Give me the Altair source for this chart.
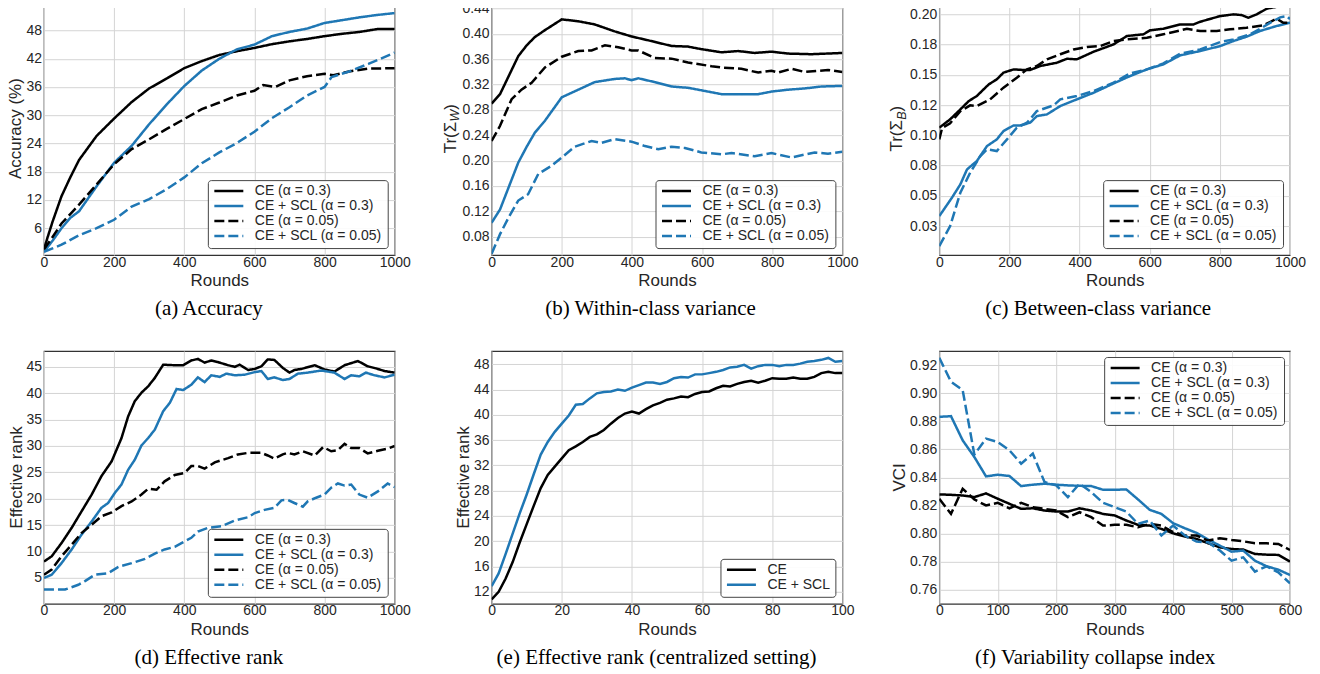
import altair as alt
import pandas as pd

# ---------------- data ----------------
LABELS4 = ["CE (α = 0.3)", "CE + SCL (α = 0.3)", "CE (α = 0.05)", "CE + SCL (α = 0.05)"]
LABELS2 = ["CE", "CE + SCL"]
CAPTIONS = ["(a) Accuracy", "(b) Within-class variance", "(c) Between-class variance",
            "(d) Effective rank", "(e) Effective rank (centralized setting)", "(f) Variability collapse index"]

# (a) Accuracy
A_CE03_X = [0, 10, 25, 50, 75, 100, 150, 200, 250, 300, 350, 400, 450, 500, 550, 600, 650, 700, 750, 800, 850, 900, 950, 1000]
A_CE03_Y = [1.5, 4.0, 7.5, 12.8, 16.8, 20.5, 25.6, 29.3, 32.8, 35.7, 37.8, 40.0, 41.5, 42.8, 43.6, 44.3, 45.1, 45.7, 46.2, 46.8, 47.3, 47.7, 48.3, 48.3]
A_SCL03_X = [0, 25, 50, 75, 100, 150, 200, 250, 300, 350, 400, 450, 500, 550, 600, 650, 700, 750, 800, 850, 900, 950, 1000]
A_SCL03_Y = [1.0, 3.4, 6.0, 8.2, 9.6, 14.9, 19.9, 23.5, 28.1, 32.3, 36.2, 39.5, 42.0, 44.0, 45.0, 46.8, 47.7, 48.4, 49.6, 50.2, 50.8, 51.3, 51.7]
A_CE005_X = [0, 25, 50, 75, 100, 150, 200, 250, 300, 350, 400, 450, 500, 550, 600, 625, 660, 700, 750, 800, 825, 870, 925, 1000]
A_CE005_Y = [1.5, 4.2, 7.0, 9.0, 11.0, 15.3, 19.6, 22.8, 24.9, 27.1, 29.2, 31.3, 32.7, 34.2, 35.2, 36.4, 36.0, 37.4, 38.3, 38.8, 38.5, 39.3, 39.9, 40.0]
A_SCL005_X = [0, 50, 100, 150, 200, 250, 300, 350, 400, 450, 500, 550, 600, 650, 700, 750, 800, 820, 870, 925, 1000]
A_SCL005_Y = [1.0, 2.5, 4.5, 6.0, 7.8, 10.6, 12.2, 14.3, 16.8, 19.8, 22.1, 24.1, 26.5, 29.4, 31.7, 34.2, 36.0, 38.1, 39.3, 40.9, 43.3]

# (b) Within-class variance
B_CE03_X = [0, 24, 50, 76, 100, 123, 152, 200, 247, 294, 351, 399, 446, 513, 560, 598, 655, 703, 750, 798, 845, 912, 1000]
B_CE03_Y = [0.290, 0.305, 0.335, 0.365, 0.382, 0.395, 0.406, 0.423, 0.420, 0.415, 0.404, 0.396, 0.390, 0.381, 0.380, 0.376, 0.371, 0.373, 0.370, 0.372, 0.369, 0.368, 0.370]
B_SCL03_X = [0, 24, 50, 76, 100, 123, 152, 200, 247, 294, 351, 380, 399, 418, 465, 513, 560, 608, 655, 703, 760, 798, 845, 893, 940, 1000]
B_SCL03_Y = [0.102, 0.123, 0.160, 0.197, 0.222, 0.244, 0.263, 0.300, 0.312, 0.324, 0.329, 0.330, 0.327, 0.330, 0.324, 0.317, 0.315, 0.310, 0.305, 0.305, 0.305, 0.309, 0.312, 0.314, 0.317, 0.318]
B_CE005_X = [0, 24, 57, 85, 114, 152, 200, 247, 285, 323, 361, 399, 418, 465, 513, 560, 627, 655, 712, 760, 798, 817, 855, 893, 959, 1000]
B_CE005_Y = [0.231, 0.255, 0.297, 0.312, 0.323, 0.347, 0.364, 0.373, 0.374, 0.382, 0.379, 0.374, 0.374, 0.362, 0.361, 0.355, 0.349, 0.347, 0.345, 0.339, 0.342, 0.339, 0.345, 0.340, 0.343, 0.340]
B_SCL005_X = [0, 24, 50, 76, 104, 133, 171, 200, 237, 285, 313, 351, 399, 437, 475, 513, 551, 598, 655, 684, 750, 798, 855, 921, 959, 1000]
B_SCL005_Y = [0.053, 0.084, 0.112, 0.137, 0.147, 0.179, 0.192, 0.205, 0.222, 0.231, 0.228, 0.234, 0.230, 0.223, 0.218, 0.222, 0.220, 0.213, 0.210, 0.212, 0.207, 0.212, 0.205, 0.213, 0.211, 0.214]

# (c) Between-class variance
C_CE03_X = [0, 31, 60, 84, 107, 141, 164, 183, 212, 240, 259, 288, 335, 364, 392, 440, 497, 535, 582, 601, 639, 687, 725, 744, 801, 839, 862, 881, 905, 934, 972, 1000]
C_CE03_Y = [0.1063, 0.1132, 0.1214, 0.1283, 0.1325, 0.1421, 0.1463, 0.1518, 0.1545, 0.1540, 0.1540, 0.1573, 0.1600, 0.1633, 0.1628, 0.1691, 0.1752, 0.1821, 0.1835, 0.1868, 0.1881, 0.1917, 0.1917, 0.1939, 0.1986, 0.2000, 0.1994, 0.1972, 0.2000, 0.2047, 0.2069, 0.2100]
C_SCL03_X = [0, 36, 60, 79, 107, 136, 164, 183, 212, 231, 259, 278, 307, 345, 392, 440, 497, 544, 592, 639, 687, 744, 801, 839, 876, 914, 962, 1000]
C_SCL03_Y = [0.0332, 0.0484, 0.0594, 0.0718, 0.0787, 0.0911, 0.0966, 0.1035, 0.1082, 0.1082, 0.1104, 0.1159, 0.1173, 0.1242, 0.1297, 0.1352, 0.1429, 0.1490, 0.1545, 0.1587, 0.1661, 0.1697, 0.1738, 0.1780, 0.1815, 0.1862, 0.1904, 0.1931]
C_CE005_X = [0, 8, 31, 60, 88, 107, 145, 183, 221, 250, 278, 307, 345, 383, 421, 459, 497, 535, 592, 639, 668, 706, 744, 791, 829, 876, 924, 962, 981, 1000]
C_CE005_Y = [0.0966, 0.1060, 0.1100, 0.1200, 0.1248, 0.1242, 0.1297, 0.1394, 0.1476, 0.1545, 0.1573, 0.1628, 0.1670, 0.1710, 0.1730, 0.1738, 0.1780, 0.1793, 0.1807, 0.1835, 0.1854, 0.1881, 0.1862, 0.1862, 0.1876, 0.1890, 0.1909, 0.1964, 0.1931, 0.1931]
C_SCL005_X = [0, 31, 60, 88, 117, 136, 164, 193, 221, 250, 278, 326, 345, 392, 440, 497, 544, 592, 639, 687, 744, 801, 839, 886, 914, 943, 972, 991, 1000]
C_SCL005_Y = [0.0084, 0.0250, 0.0525, 0.0691, 0.0829, 0.0884, 0.0870, 0.0966, 0.1063, 0.1104, 0.1200, 0.1248, 0.1297, 0.1325, 0.1366, 0.1435, 0.1512, 0.1545, 0.1595, 0.1675, 0.1710, 0.1771, 0.1793, 0.1835, 0.1880, 0.1930, 0.1975, 0.1985, 0.1960]
C_TICK_VALUES = [0.025, 0.05, 0.075, 0.10, 0.125, 0.15, 0.175, 0.20]
C_TICK_LABELS = ["0.03", "0.05", "0.08", "0.10", "0.12", "0.15", "0.18", "0.20"]

# (d) Effective rank
D_CE03_X = [0, 22, 50, 79, 107, 136, 164, 193, 221, 240, 259, 278, 297, 316, 340, 373, 397, 420, 439, 458, 477, 496, 525, 544, 558, 582, 601, 620, 638, 657, 681, 700, 714, 734, 772, 800, 828, 857, 895, 923, 947, 971, 1000]
D_CE03_Y = [8.1, 9.1, 11.6, 14.5, 17.6, 20.8, 24.3, 27.1, 31.5, 35.6, 38.5, 40.1, 41.3, 42.9, 45.4, 45.3, 45.3, 46.2, 46.5, 45.8, 46.2, 45.9, 45.3, 45.0, 45.4, 44.4, 44.6, 45.1, 46.4, 46.3, 44.8, 43.9, 44.4, 44.6, 45.3, 44.5, 44.1, 45.3, 46.1, 45.1, 44.7, 44.2, 43.9]
D_SCL03_X = [0, 22, 50, 79, 107, 136, 164, 183, 202, 221, 240, 259, 278, 297, 316, 340, 359, 378, 397, 420, 439, 458, 477, 501, 520, 544, 572, 601, 620, 638, 657, 681, 700, 724, 752, 791, 828, 857, 876, 899, 918, 942, 971, 1000]
D_SCL03_Y = [5.0, 5.6, 7.8, 10.4, 13.2, 15.7, 18.3, 19.2, 21.1, 22.7, 25.5, 27.4, 30.1, 31.5, 33.1, 36.6, 38.2, 40.8, 40.6, 41.6, 43.0, 42.1, 43.4, 43.1, 43.7, 43.4, 43.5, 44.0, 44.2, 42.7, 43.0, 42.5, 42.7, 43.7, 43.9, 44.3, 43.9, 42.7, 43.4, 43.2, 43.9, 43.4, 43.0, 43.5]
D_CE005_X = [0, 22, 50, 79, 107, 136, 164, 193, 221, 250, 278, 297, 321, 344, 373, 401, 420, 439, 458, 487, 525, 553, 582, 620, 638, 657, 681, 695, 714, 738, 772, 796, 819, 838, 857, 876, 899, 923, 952, 980, 1000]
D_CE005_Y = [5.6, 6.6, 9.1, 11.3, 13.5, 15.1, 16.7, 17.4, 18.6, 19.5, 20.8, 21.9, 21.7, 23.3, 24.5, 24.9, 26.2, 26.2, 25.7, 26.9, 27.7, 28.4, 28.7, 28.7, 28.2, 27.6, 28.4, 28.7, 28.4, 29.0, 28.2, 29.8, 29.0, 29.2, 30.4, 29.6, 29.6, 28.6, 29.1, 29.5, 30.0]
D_SCL005_X = [0, 60, 98, 117, 145, 183, 212, 250, 288, 316, 344, 373, 392, 420, 439, 468, 506, 544, 582, 601, 629, 657, 677, 695, 714, 738, 752, 776, 800, 819, 838, 857, 876, 899, 923, 952, 980, 1000]
D_SCL005_Y = [2.8, 2.8, 3.7, 4.4, 5.6, 5.9, 7.1, 7.8, 8.6, 9.6, 10.4, 10.9, 11.6, 12.6, 13.8, 14.5, 14.8, 15.9, 16.5, 17.3, 17.9, 18.3, 19.7, 19.8, 19.2, 18.5, 19.5, 20.2, 20.8, 22.1, 22.9, 22.5, 22.7, 20.8, 20.2, 21.4, 22.9, 22.2]

# (e) Effective rank (centralized setting)
E_X = [0, 2, 4, 6, 8, 10, 12, 14, 16, 18, 20, 22, 24, 26, 28, 30, 32, 34, 36, 38, 40, 42, 44, 46, 48, 50,
       52, 54, 56, 58, 60, 62, 64, 66, 68, 70, 72, 74, 76, 78, 80, 82, 84, 86, 88, 90, 92, 94, 96, 98, 100]
E_CE = [10.8, 12.0, 14.1, 16.7, 19.8, 22.7, 25.6, 28.4, 30.5, 31.8, 33.1, 34.4, 35.0, 35.7, 36.5, 36.9, 37.6, 38.6, 39.5, 40.2,
        40.5, 40.2, 40.9, 41.5, 41.9, 42.4, 42.6, 42.9, 42.8, 43.3, 43.6, 43.7, 44.2, 44.6, 44.5, 44.9, 45.2, 45.4, 45.1, 45.4,
        45.8, 45.7, 45.7, 45.9, 45.7, 45.7, 46.0, 46.6, 46.8, 46.6, 46.6]
E_SCL = [12.9, 14.9, 18.0, 21.2, 24.4, 27.4, 30.6, 33.7, 35.7, 37.3, 38.6, 39.9, 41.6, 41.7, 42.6, 43.4, 43.6, 43.7, 44.0, 43.8,
         44.3, 44.7, 45.1, 45.1, 44.9, 45.2, 45.8, 46.0, 45.9, 46.4, 46.4, 46.6, 46.8, 47.1, 47.5, 47.6, 47.9, 47.3, 47.7, 47.9,
         47.9, 47.7, 47.9, 47.9, 48.1, 48.4, 48.5, 48.7, 49.0, 48.4, 48.5]

# (f) Variability collapse index
F_X = [0, 20, 40, 60, 80, 100, 120, 140, 160, 180, 200, 220, 240, 260, 280, 300, 320, 340, 360, 380,
       400, 420, 440, 460, 480, 500, 520, 540, 560, 580, 600]
F_CE03 = [0.8279, 0.8276, 0.8271, 0.8260, 0.8286, 0.8248, 0.8212, 0.8176, 0.8180, 0.8164, 0.8157, 0.8157, 0.8180, 0.8164, 0.8140,
          0.8129, 0.8093, 0.8062, 0.8057, 0.8033, 0.8002, 0.7979, 0.7962, 0.7931, 0.7902, 0.7890, 0.7886, 0.7855, 0.7850, 0.7848, 0.7800]
F_SCL03 = [0.8831, 0.8836, 0.8664, 0.8545, 0.8407, 0.8419, 0.8410, 0.8338, 0.8348, 0.8355, 0.8348, 0.8343, 0.8340, 0.8338, 0.8312,
           0.8312, 0.8314, 0.8243, 0.8169, 0.8140, 0.8074, 0.8038, 0.8005, 0.7957, 0.7914, 0.7871, 0.7879, 0.7807, 0.7767, 0.7743, 0.7705]
F_CE005 = [0.8248, 0.8140, 0.8319, 0.8243, 0.8200, 0.8219, 0.8180, 0.8219, 0.8188, 0.8176, 0.8164, 0.8117, 0.8152, 0.8117, 0.8057,
           0.8062, 0.8062, 0.8045, 0.8069, 0.8057, 0.8010, 0.7986, 0.7986, 0.7950, 0.7967, 0.7955, 0.7945, 0.7931, 0.7931, 0.7926, 0.7883]
F_SCL005 = [0.9252, 0.9081, 0.9021, 0.8562, 0.8676, 0.8652, 0.8593, 0.8498, 0.8569, 0.8367, 0.8343, 0.8260, 0.8355, 0.8295, 0.8219,
            0.8188, 0.8157, 0.8069, 0.8093, 0.7986, 0.8057, 0.7986, 0.7943, 0.7938, 0.7879, 0.7807, 0.7831, 0.7729, 0.7767, 0.7724, 0.7645]

# ---------------- styling ----------------
FONT = "Liberation Sans"
SERIF = "Liberation Serif"
TXT = "#262626"
BLACK = "#000000"
BLUE = "#1f77b4"
COLORS4 = [BLACK, BLUE, BLACK, BLUE]
DASHES4 = [[1, 0], [1, 0], [10, 4], [10, 4]]
W = 351
H = 253


def series_df(names, xs_list, ys_list):
    rows = []
    for n, xs, ys in zip(names, xs_list, ys_list):
        for x, y in zip(xs, ys):
            rows.append({"round": x, "value": y, "series": n})
    return pd.DataFrame(rows)


def text_layer(text, x, y, size, font=FONT, align="center", style="normal", angle=270, color=TXT):
    return alt.Chart(pd.DataFrame({"t": [text]})).mark_text(
        font=font, fontSize=size, fontStyle=style, angle=angle, align=align,
        baseline="alphabetic", color=color
    ).encode(text="t:N", x=alt.value(x), y=alt.value(y))


def panel(df, names, colors, dashes, xdom, xticks, ydom, yticks, yfmt, ylabel_expr,
          legend_orient, legend_offset, ytitle_layers, caption, cap_x):
    x = alt.X("round:Q", scale=alt.Scale(domain=xdom, nice=False, zero=False),
              axis=alt.Axis(values=xticks, title="Rounds", format="d", labelFlush=False,
                            labelPadding=0, titlePadding=3.5))
    yax = dict(values=yticks, title=None, labelPadding=2.5)
    if ylabel_expr:
        yax["labelExpr"] = ylabel_expr
    else:
        yax["format"] = yfmt
    y = alt.Y("value:Q", scale=alt.Scale(domain=ydom, nice=False, zero=False), axis=alt.Axis(**yax))
    leg = alt.Legend(title=None, orient=legend_orient, offset=legend_offset, symbolType="stroke",
                     symbolSize=841, symbolStrokeWidth=2.5, labelFont=FONT, labelFontSize=14,
                     labelColor=TXT, labelOffset=10, padding=5, rowPadding=1, clipHeight=12,
                     strokeColor="#444444", cornerRadius=3, fillColor="rgba(255,255,255,0.9)",
                     labelLimit=400)
    enc = dict(x=x, y=y,
               color=alt.Color("series:N", scale=alt.Scale(domain=names, range=colors), legend=leg))
    if dashes:
        enc["strokeDash"] = alt.StrokeDash("series:N", scale=alt.Scale(domain=names, range=dashes), legend=leg)
    lines = alt.Chart(df).mark_line(strokeWidth=2.5, clip=True).encode(**enc)
    layers = [lines] + ytitle_layers
    layers.append(text_layer(caption, cap_x, H + 60, 21, font=SERIF, angle=0, color="#000000"))
    return alt.layer(*layers).properties(width=W, height=H)


def sub_title(main, sub, close, xb):
    w1 = 17 * (0.611 + 0.333 + 0.333 + 0.6)
    w2 = 12.5 * (0.944 if sub == "W" else 0.667)
    w3 = 17 * 0.333
    y0 = H / 2 + (w1 + w2 + w3) / 2
    return [text_layer(main, xb, y0, 17, align="left"),
            text_layer(sub, xb + 3.5, y0 - w1, 12.5, align="left", style="italic"),
            text_layer(close, xb, y0 - w1 - w2, 17, align="left")]


X1000 = [0, 200, 400, 600, 800, 1000]

c_expr = " : ".join(f"abs(datum.value - {v}) < 1e-6 ? '{l}'" for v, l in zip(C_TICK_VALUES, C_TICK_LABELS)) + " : ''"

pa = panel(series_df(LABELS4, [A_CE03_X, A_SCL03_X, A_CE005_X, A_SCL005_X], [A_CE03_Y, A_SCL03_Y, A_CE005_Y, A_SCL005_Y]),
           LABELS4, COLORS4, DASHES4, [0, 1000], X1000, [0.3, 54], [6, 12, 18, 24, 30, 36, 42, 48, 54], "d", None,
           "bottom-right", 7, [text_layer("Accuracy (%)", -23, H / 2, 17)], CAPTIONS[0], 165)
pb = panel(series_df(LABELS4, [B_CE03_X, B_SCL03_X, B_CE005_X, B_SCL005_X], [B_CE03_Y, B_SCL03_Y, B_CE005_Y, B_SCL005_Y]),
           LABELS4, COLORS4, DASHES4, [0, 1000], X1000, [0.051, 0.45],
           [0.08, 0.12, 0.16, 0.20, 0.24, 0.28, 0.32, 0.36, 0.40, 0.44], ".2f", None,
           "bottom-right", 7, sub_title("Tr(Σ", "W", ")", -36), CAPTIONS[1], 159)
pc = panel(series_df(LABELS4, [C_CE03_X, C_SCL03_X, C_CE005_X, C_SCL005_X], [C_CE03_Y, C_SCL03_Y, C_CE005_Y, C_SCL005_Y]),
           LABELS4, COLORS4, DASHES4, [0, 1000], X1000, [0.001, 0.210], C_TICK_VALUES, None, c_expr,
           "bottom-right", 7, sub_title("Tr(Σ", "B", ")", -37), CAPTIONS[2], 159)
pd_ = panel(series_df(LABELS4, [D_CE03_X, D_SCL03_X, D_CE005_X, D_SCL005_X], [D_CE03_Y, D_SCL03_Y, D_CE005_Y, D_SCL005_Y]),
            LABELS4, COLORS4, DASHES4, [0, 1000], X1000, [0.1, 48], [5, 10, 15, 20, 25, 30, 35, 40, 45], "d", None,
            "bottom-right", 7, [text_layer("Effective rank", -22, H / 2, 17)], CAPTIONS[3], 165)
pe = panel(series_df(LABELS2, [E_X, E_X], [E_CE, E_SCL]),
           LABELS2, [BLACK, BLUE], None, [0, 100], [0, 20, 40, 60, 80, 100], [10.1, 50.1],
           [12, 16, 20, 24, 28, 32, 36, 40, 44, 48], "d", None,
           "bottom-right", 7, [text_layer("Effective rank", -23, H / 2, 17)], CAPTIONS[4], 165)
pf = panel(series_df(LABELS4, [F_X, F_X, F_X, F_X], [F_CE03, F_SCL03, F_CE005, F_SCL005]),
           LABELS4, COLORS4, DASHES4, [0, 600], [0, 100, 200, 300, 400, 500, 600], [0.75, 0.93],
           [0.76, 0.78, 0.80, 0.82, 0.84, 0.86, 0.88, 0.90, 0.92], ".2f", None,
           "top-right", 6, [text_layer("VCI", -34, H / 2, 17)], CAPTIONS[5], 156)

chart = alt.concat(
    pa, pb, pc, pd_, pe, pf, columns=3, spacing={"row": 96, "column": 97}, bounds="flush"
).resolve_scale(
    color="independent", strokeDash="independent"
).properties(
    padding={"left": -2, "top": -14, "right": 5, "bottom": 0}
).configure_axis(
    labelFont=FONT, labelFontSize=14, labelColor=TXT, titleFont=FONT, titleFontSize=17,
    titleColor=TXT, titleFontWeight="normal", grid=True, gridColor="#d4d4d4", gridWidth=1,
    domain=False, ticks=False, tickSize=0
).configure_view(
    stroke="#333333", strokeWidth=1.2
)

chart.save("out.html", embed_options={"renderer": "svg", "actions": False})
